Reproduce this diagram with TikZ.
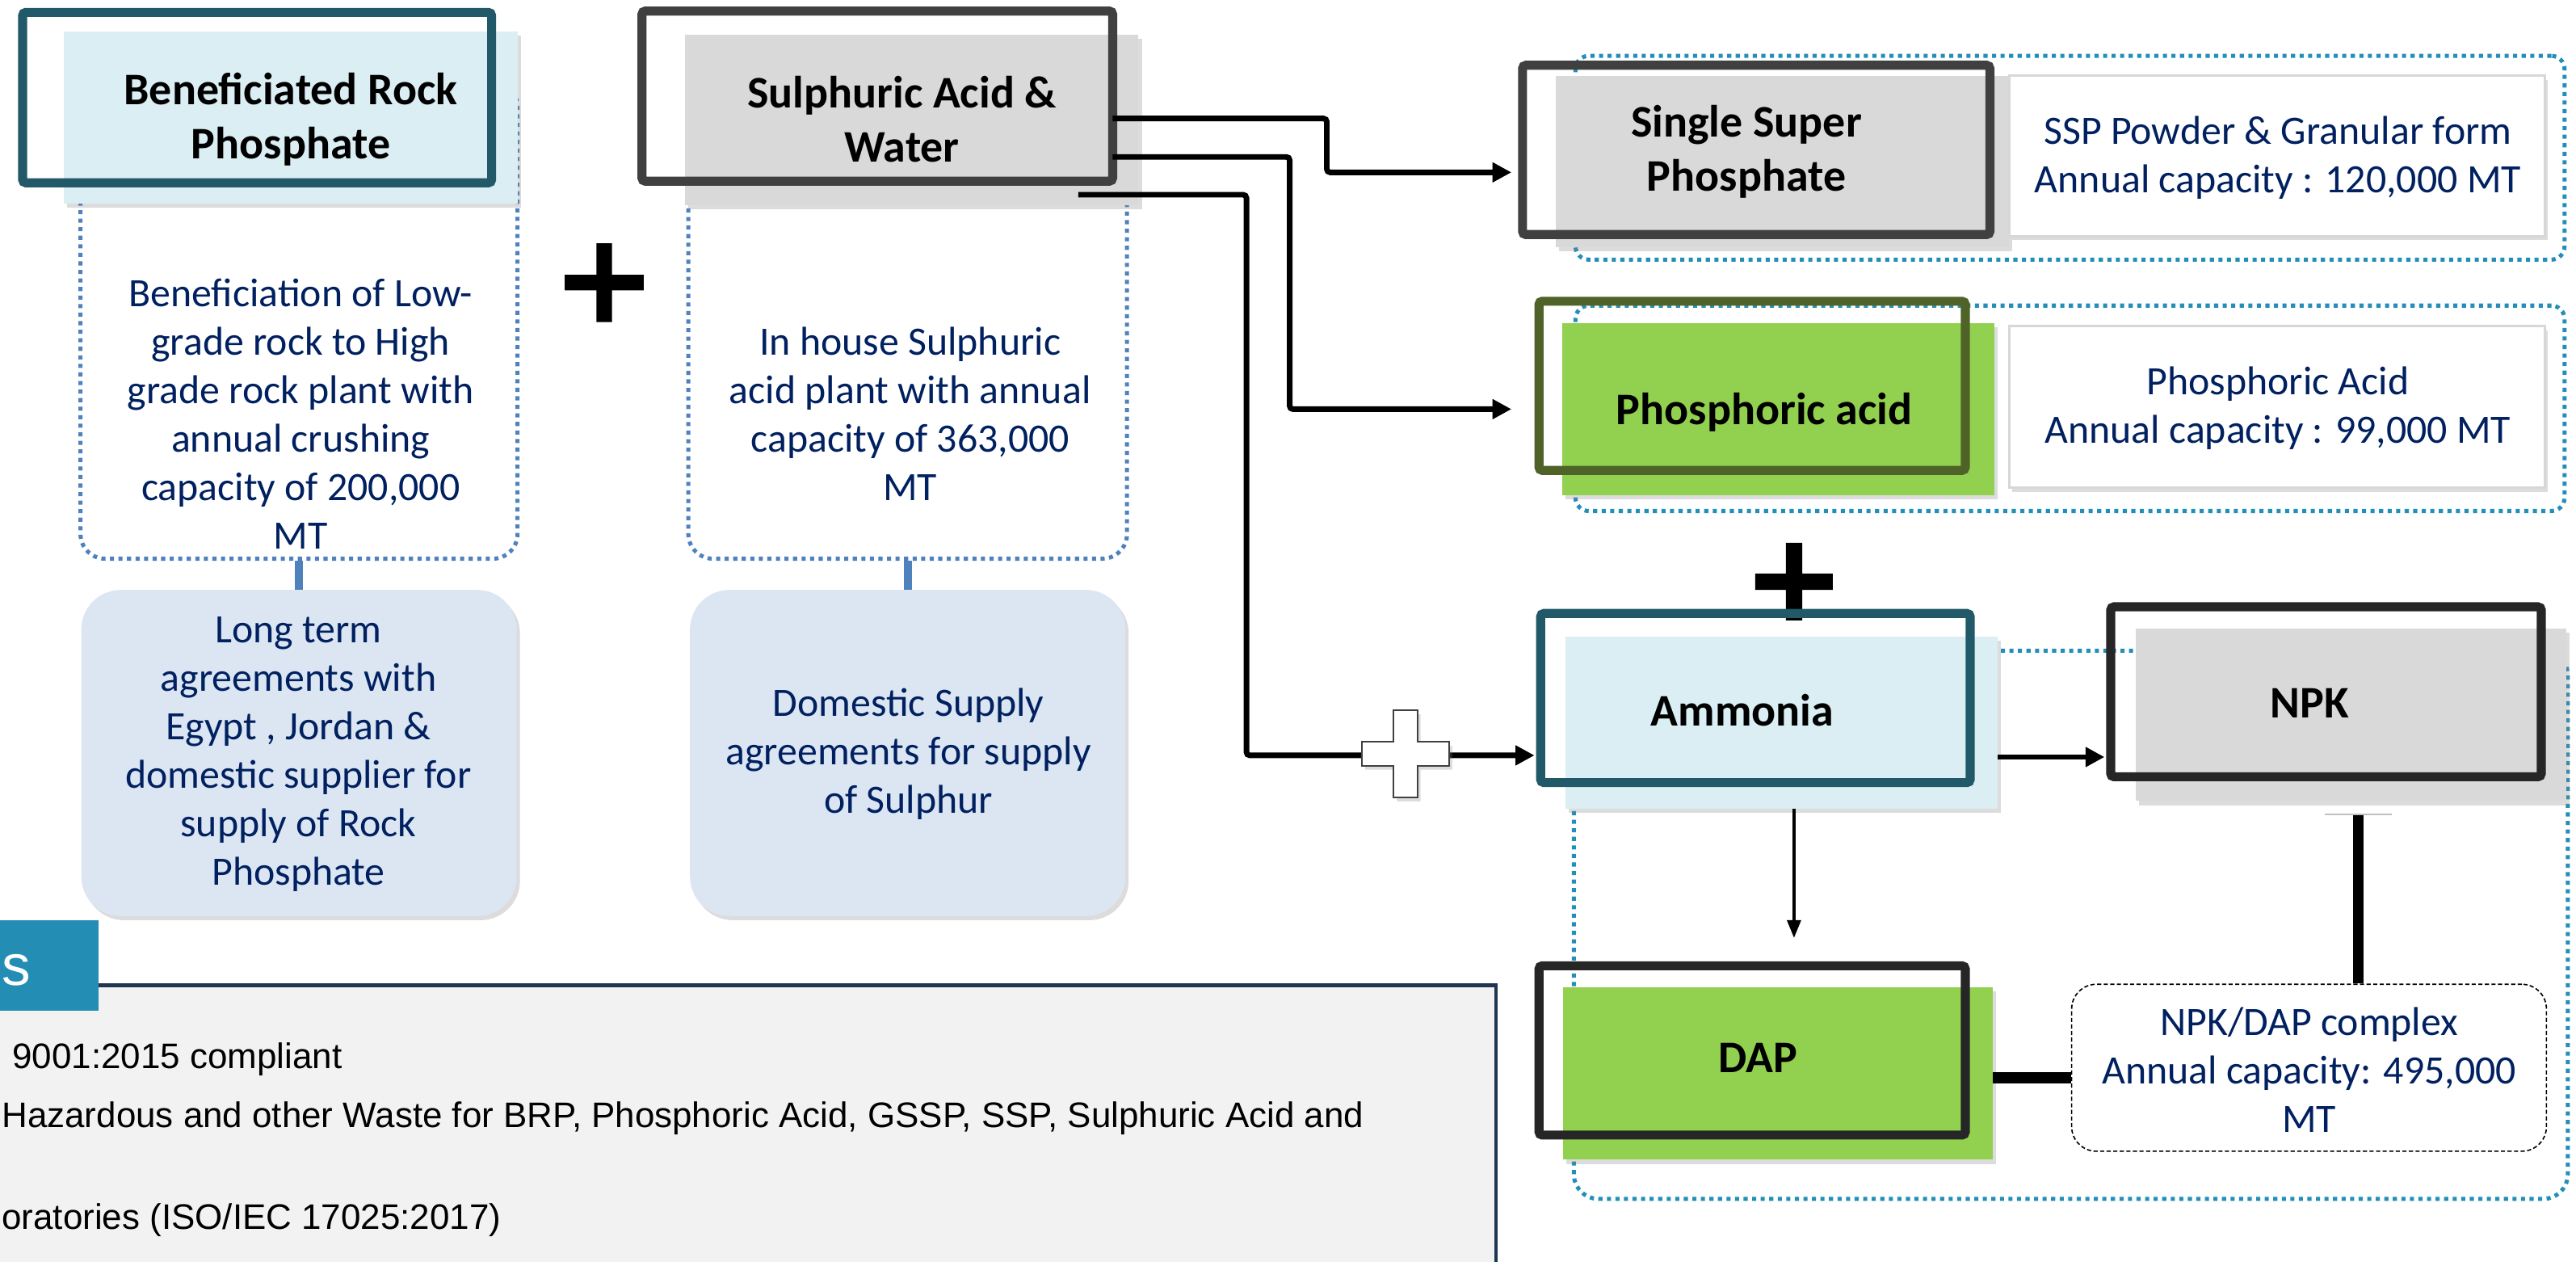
\documentclass[tikz,border=0pt]{standalone}
\usepackage{fontspec}
\setmainfont{Carlito}
\newfontfamily\arialf{Liberation Sans}
\usetikzlibrary{arrows.meta,shadows}
\definecolor{tealdk}{RGB}{33,89,104}
\definecolor{ltblue}{RGB}{218,238,243}
\definecolor{grayol}{RGB}{64,64,64}
\definecolor{darkol}{RGB}{38,38,38}
\definecolor{oliveol}{RGB}{79,98,40}
\definecolor{greenf}{RGB}{146,208,80}
\definecolor{grayf}{RGB}{217,217,217}
\definecolor{txtnavy}{RGB}{0,32,96}
\definecolor{dotblue}{RGB}{79,129,189}
\definecolor{dotteal}{RGB}{35,143,184}
\definecolor{agreef}{RGB}{220,230,242}
\definecolor{tabcol}{RGB}{35,141,180}
\definecolor{boxborder}{RGB}{31,53,82}
\definecolor{boxfill}{RGB}{242,242,242}
\definecolor{infoborder}{RGB}{215,215,215}
\newcommand\plusshape[4]{(#1-#4,#2-#3) -- (#1+#4,#2-#3) -- (#1+#4,#2-#4) -- (#1+#3,#2-#4) -- (#1+#3,#2+#4) -- (#1+#4,#2+#4) -- (#1+#4,#2+#3) -- (#1-#4,#2+#3) -- (#1-#4,#2+#4) -- (#1-#3,#2+#4) -- (#1-#3,#2-#4) -- (#1-#4,#2-#4) -- cycle}
\begin{document}
\begin{tikzpicture}[x=1pt,y=-1pt,
  shd/.style={drop shadow={shadow xshift=2pt,shadow yshift=-2.5pt,opacity=0.28}},
  fillbox/.style={draw=none,inner sep=0pt,outer sep=0pt,shd},
  outbox/.style={draw,line width=5.5pt,inner sep=0pt,outer sep=0pt,rounded corners=2pt,fill=none},
  dotbox/.style={draw,line width=2.5pt,dash pattern=on 2.5pt off 2.7pt,inner sep=0pt,rounded corners=15pt},
  infobox/.style={draw=infoborder,line width=1.5pt,fill=white,inner sep=0pt,shd},
  agreebox/.style={fill=agreef,draw=none,rounded corners=24pt,inner sep=0pt,shd},
  head/.style={font=\fontsize{27.5}{33}\selectfont\bfseries,align=center,text=black,inner sep=0pt},
  body/.style={font=\fontsize{24.5}{29.5}\selectfont,align=center,text=txtnavy,inner sep=0pt},
  btxt/.style={font=\arialf\fontsize{21.6}{26}\selectfont,text=black,inner sep=0pt,anchor=base west},
  conn/.style={line width=3.4pt,rounded corners=2pt,-{Triangle[length=11.5pt,width=11.5pt]}},
  stub/.style={draw=dotblue,line width=5pt}]
\useasboundingbox (0,0) rectangle (1568,767.6);
\clip (0,0) rectangle (1568,767.6);

% ---------- left column: dotted frames and agreement boxes ----------
\node[dotbox,draw=dotblue,minimum width=266pt,minimum height=290pt] (brp-d) at (182,195) {};
\node[dotbox,draw=dotblue,minimum width=267pt,minimum height=290pt] (sul-d) at (552.5,195) {};
\node[agreebox,minimum width=265pt,minimum height=198.5pt] (lt) at (182,458.25) {};
\node[agreebox,minimum width=265pt,minimum height=198.5pt] (ds) at (552.5,458.25) {};
\draw[stub] (brp-d.south) -- (lt.north);
\draw[stub] (sul-d.south) -- (ds.north);
\node[body] (lt-t) at (181.7,459) {Long term\\agreements with\\Egypt , Jordan \&\\domestic supplier for\\supply of Rock\\Phosphate};
\node[body] (ds-t) at (553,458.7) {Domestic Supply\\agreements for supply\\of Sulphur};

% ---------- Beneficiated Rock Phosphate ----------
\node[fillbox,fill=ltblue,minimum width=276.4pt,minimum height=105pt] (brp-f) at (176.8,71.5) {};
\node[outbox,draw=tealdk,minimum width=285.5pt,minimum height=103.7pt] (brp-o) at (156.5,59.4) {};
\node[head] (brp-t) at (177,72.5) {Beneficiated Rock\\Phosphate};
\node[body] (brp-b) at (183,252) {Beneficiation of Low-\\grade rock to High\\grade rock plant with\\annual crushing\\capacity of 200,000\\MT};

% ---------- Sulphuric Acid & Water ----------
\node[fillbox,fill=grayf,minimum width=276pt,minimum height=104pt] (sul-f) at (555,73) {};
\node[outbox,draw=grayol,minimum width=286.5pt,minimum height=103.5pt] (sul-o) at (534,58.5) {};
\node[head] (sul-t) at (549,72.5) {Sulphuric Acid \&\\Water};
\node[body] (sul-b) at (554,252) {In house Sulphuric\\acid plant with annual\\capacity of 363,000\\MT};

% ---------- plus between the two inputs ----------
\path[fill=white,draw=white,line width=6.6pt,line join=round,shd] \plusshape{367.8}{172}{24}{4.75};
\fill[black] \plusshape{367.8}{172}{24}{4.75};

% ---------- Single Super Phosphate ----------
\node[dotbox,draw=dotteal,rounded corners=8pt,minimum width=602pt,minimum height=124pt] (ssp-d) at (1260,96) {};
\node[fillbox,fill=grayf,minimum width=276pt,minimum height=104.5pt] (ssp-f) at (1085,98.25) {};
\node[outbox,draw=grayol,minimum width=284.5pt,minimum height=103pt] (ssp-o) at (1069,91.25) {};
\node[head] (ssp-t) at (1063,92.5) {Single Super\\Phosphate};
\node[infobox,minimum width=326pt,minimum height=97.7pt] (ssp-i) at (1386,94.85) {};
\node[body] (ssp-it) at (1386.5,96) {SSP Powder \& Granular form\\Annual capacity : 120,000 MT};

% ---------- Phosphoric acid ----------
\node[dotbox,draw=dotteal,rounded corners=8pt,minimum width=602pt,minimum height=125pt] (pho-d) at (1260,248.5) {};
\node[fillbox,fill=greenf,minimum width=263pt,minimum height=105pt] (pho-f) at (1082.5,249) {};
\node[outbox,draw=oliveol,minimum width=259.5pt,minimum height=102.9pt] (pho-o) at (1066.5,234.8) {};
\node[head] (pho-t) at (1074,251) {Phosphoric acid};
\node[infobox,minimum width=326pt,minimum height=98.2pt] (pho-i) at (1386,247.6) {};
\node[body] (pho-it) at (1386.5,248.4) {Phosphoric Acid\\Annual capacity : 99,000 MT};

% ---------- NPK / DAP complex ----------
\node[dotbox,draw=dotteal,minimum width=605pt,minimum height=333.6pt] (cx-d) at (1260.5,562.8) {};
\path[fill=white,draw=white,line width=6.6pt,line join=round,shd] \plusshape{1092}{354}{23.6}{5};
\fill[black] \plusshape{1092}{354}{23.6}{5};
\node[fillbox,fill=ltblue,minimum width=263pt,minimum height=104.5pt] (amm-f) at (1084.5,439.75) {};
\node[outbox,draw=tealdk,minimum width=261.5pt,minimum height=102.9pt] (amm-o) at (1068.5,424.8) {};
\node[head] (amm-t) at (1060.5,432.4) {Ammonia};
\node[fillbox,fill=grayf,minimum width=262pt,minimum height=104.8pt] (npk-f) at (1431,435.1) {};
\node[outbox,draw=darkol,minimum width=262.1pt,minimum height=103.4pt] (npk-o) at (1415.8,421) {};
\node[head] (npk-t) at (1406,428) {NPK};
\node[fillbox,fill=greenf,minimum width=261.7pt,minimum height=104.8pt] (dap-f) at (1082.2,653.4) {};
\node[outbox,draw=darkol,minimum width=259.5pt,minimum height=103pt] (dap-o) at (1066.5,639.25) {};
\node[head] (dap-t) at (1070,644) {DAP};
\node[draw=black,line width=0.8pt,dash pattern=on 2.5pt off 1.5pt,fill=white,rounded corners=15pt,inner sep=0pt,minimum width=289pt,minimum height=101.6pt] (cpx) at (1405.5,649.8) {};
\node[body] (cpx-t) at (1405.5,651) {NPK/DAP complex\\Annual capacity: 495,000\\MT};

% ---------- connectors ----------
\coordinate (s1) at (677.25,72.1);
\coordinate (s2) at (677.25,95.5);
\coordinate (s3) at (656.3,118.5);
\coordinate (e1) at (920,104.9);
\coordinate (e2) at (920,249);
\coordinate (e3) at (934,459.7);
\draw[conn] (s1) -| (807.6,104.9) -- (e1);
\draw[conn] (s2) -| (785,249) -- (e2);
\draw[conn] (s3) -| (758.7,459.7) -- (e3);
\path[fill=white,draw=black!75,line width=1pt,shd] \plusshape{855.5}{458.7}{26.5}{7.2};
\coordinate (a1) at (1216,460.7);
\coordinate (a2) at (1281,460.7);
\draw[conn] (a1) -- (a2);
\coordinate (d1) at (1092,492);
\coordinate (d2) at (1092,571);
\draw[line width=2.4pt,-{Triangle[length=11pt,width=8pt]}] (d1) -- (d2);
\draw[line width=6.7pt] (dap-f.east |- 0,656) -- (cpx.west |- 0,656);
\draw[line width=6.6pt] (1435.6,496) -- (cpx.north -| 1435.6,0);
\draw[black!25,line width=0.9pt] (1415,495.6) -- (1456,495.6);

% ---------- bottom-left panel ----------
\fill[boxfill] (-5,599.5) rectangle (910.5,775);
\draw[boxborder,line width=2.2pt] (-5,599.5) -- (910.5,599.5) -- (910.5,775);
\fill[tabcol] (-5,560) rectangle (59.8,615);
\node[font=\arialf\fontsize{35}{35}\selectfont,text=white,inner sep=0pt,anchor=base west] (tab-s) at (1,599.4) {s};
\node[btxt] (l1) at (7.4,650.3) {9001:2015 compliant};
\node[btxt] (l2) at (1,686.3) {Hazardous and other Waste for BRP, Phosphoric Acid, GSSP, SSP, Sulphuric Acid and};
\node[btxt] (l3) at (1,748) {oratories (ISO/IEC 17025:2017)};
\end{tikzpicture}
\end{document}
